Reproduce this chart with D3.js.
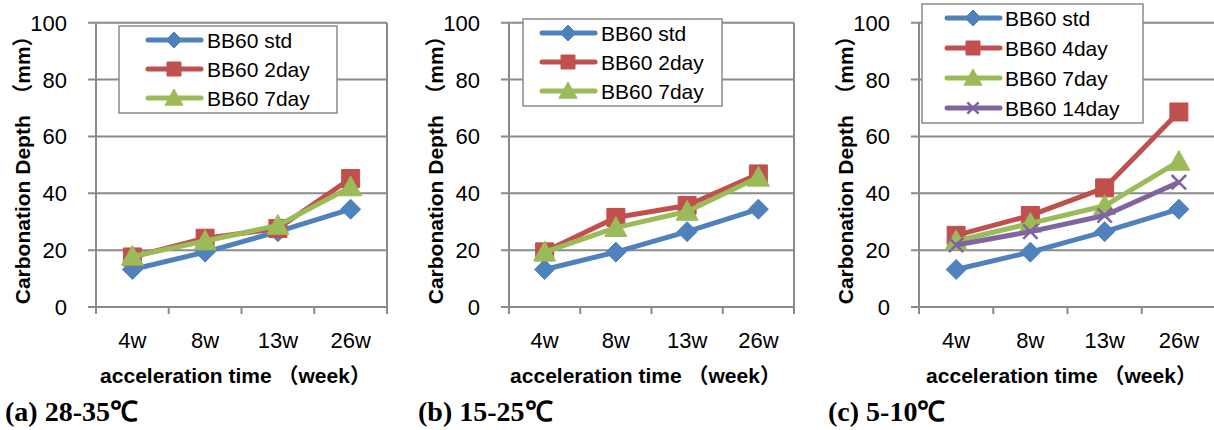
<!DOCTYPE html>
<html>
<head>
<meta charset="utf-8">
<script src="https://cdn.jsdelivr.net/npm/d3@7/dist/d3.min.js"></script>
<style>
body{margin:0;background:#fff;}
text{font-family:"Liberation Sans",Arial,"Noto Sans CJK JP",sans-serif;fill:#000;}
.tick{font-size:22px;}
.legtext{font-size:21px;}
.title{font-size:21px;font-weight:bold;}
.plabel{font-family:"Liberation Serif","Times New Roman",serif;font-size:28px;font-weight:bold;}
</style>
</head>
<body>
<div id="chart"></div>
<script>
var w = 1214;
var h = 430;

// data
var weeks = ["4w","8w","13w","26w"];
var yTicks = [0,20,40,60,80,100];
var stdDepth = [13.2, 19.3, 26.5, 34.4];
var a2day = [17.6, 24.2, 27.6, 45.2];
var a7day = [17.8, 23.2, 28.7, 42.2];
var b2day = [19.4, 31.5, 35.7, 46.8];
var b7day = [19.3, 27.9, 33.6, 45.6];
var c4day = [25.2, 32.2, 41.9, 68.6];
var c7day = [23.2, 29.4, 35.6, 51.2];
var c14day = [21.8, 26.5, 32.2, 43.9];
var panelLabels = ["(a) 28-35℃","(b) 15-25℃","(c) 5-10℃"];

var colors = {std:"#4F81BD", red:"#C0504D", green:"#9BBB59", purple:"#8064A2"};

var panels = [
  {left:96, right:387, label:panelLabels[0],
   legend:{x:119,y:26,w:218,h:87,y0:40,step:29,lx:148,tx:207},
   series:[
    {name:"BB60 std",vals:stdDepth,color:colors.std,mark:"diamond"},
    {name:"BB60 2day",vals:a2day,color:colors.red,mark:"square"},
    {name:"BB60 7day",vals:a7day,color:colors.green,mark:"triangle"}]},
  {left:509, right:794, label:panelLabels[1],
   legend:{x:523,y:19,w:199,h:87,y0:33,step:29,lx:542,tx:601},
   series:[
    {name:"BB60 std",vals:stdDepth,color:colors.std,mark:"diamond"},
    {name:"BB60 2day",vals:b2day,color:colors.red,mark:"square"},
    {name:"BB60 7day",vals:b7day,color:colors.green,mark:"triangle"}]},
  {left:919, right:1216, label:panelLabels[2],
   legend:{x:922,y:4,w:221,h:119,y0:18,step:30,lx:947,tx:1005},
   series:[
    {name:"BB60 std",vals:stdDepth,color:colors.std,mark:"diamond"},
    {name:"BB60 4day",vals:c4day,color:colors.red,mark:"square"},
    {name:"BB60 7day",vals:c7day,color:colors.green,mark:"triangle"},
    {name:"BB60 14day",vals:c14day,color:colors.purple,mark:"cross"}]}
];

var plotTop = 22.7, plotBottom = 307;
var gridColor = "#8a8a8a";

var svg = d3.select("#chart").append("svg").attr("width", w).attr("height", h);

function markerPath(type, s){
  var r = s/2;
  if(type==="diamond") return "M0,"+(-r)+"L"+r+",0L0,"+r+"L"+(-r)+",0Z";
  if(type==="square") return "M"+(-r)+","+(-r)+"h"+s+"v"+s+"h"+(-s)+"Z";
  if(type==="triangle") return "M0,"+(-r)+"L"+r+","+(r*0.8)+"L"+(-r)+","+(r*0.8)+"Z";
  return "M"+(-r*0.8)+","+(-r*0.8)+"L"+(r*0.8)+","+(r*0.8)+"M"+(r*0.8)+","+(-r*0.8)+"L"+(-r*0.8)+","+(r*0.8);
}

function drawMarker(g, type, color, x, y, s){
  var p = g.append("path")
    .attr("transform","translate("+x+","+y+")")
    .attr("d", markerPath(type, s));
  if(type==="cross"){
    p.attr("fill","none").attr("stroke",color).attr("stroke-width",2.5);
  } else {
    p.attr("fill",color).attr("stroke",color).attr("stroke-width",1);
  }
}

function markSize(type){
  if(type==="diamond") return 20;
  if(type==="triangle") return 22;
  return 18;
}

function drawPanel(cfg){
  var g = svg.append("g");
  var xScale = d3.scaleBand().domain(weeks).range([cfg.left, cfg.right]);
  var yScale = d3.scaleLinear().domain([0,100]).range([plotBottom, plotTop]);

  // gridlines + y ticks
  g.selectAll(".grid").data(yTicks).enter().append("line")
    .attr("x1", cfg.left-8).attr("x2", cfg.right)
    .attr("y1", function(d){return yScale(d);})
    .attr("y2", function(d){return yScale(d);})
    .attr("stroke", gridColor).attr("stroke-width", 2);

  // axis lines
  g.append("line").attr("x1",cfg.left).attr("x2",cfg.left).attr("y1",plotTop).attr("y2",plotBottom+7)
    .attr("stroke",gridColor).attr("stroke-width",2);
  g.append("line").attr("x1",cfg.right).attr("x2",cfg.right).attr("y1",plotTop).attr("y2",plotBottom+7)
    .attr("stroke",gridColor).attr("stroke-width",2);
  g.selectAll(".xt").data(weeks.slice(1)).enter().append("line")
    .attr("x1",function(d){return xScale(d);}).attr("x2",function(d){return xScale(d);})
    .attr("y1",plotBottom).attr("y2",plotBottom+7)
    .attr("stroke",gridColor).attr("stroke-width",2);

  // tick labels
  g.selectAll(".yl").data(yTicks).enter().append("text")
    .attr("class","tick")
    .attr("x", cfg.left-29)
    .attr("y", function(d){return yScale(d)+8;})
    .attr("text-anchor","end")
    .text(function(d){return d;});
  g.selectAll(".xl").data(weeks).enter().append("text")
    .attr("class","tick")
    .attr("x", function(d){return xScale(d)+xScale.bandwidth()/2;})
    .attr("y", 348)
    .attr("text-anchor","middle")
    .text(function(d){return d;});

  // axis titles
  g.append("text").attr("class","title")
    .attr("x",(cfg.left+cfg.right)/2 - 6).attr("y",383)
    .attr("text-anchor","middle")
    .text("acceleration time （week）");
  g.append("text").attr("class","title")
    .attr("transform","translate("+(cfg.left-66)+","+((plotTop+plotBottom)/2)+") rotate(-90)")
    .attr("text-anchor","middle")
    .text("Carbonation Depth　（mm）");

  // series
  var line = d3.line()
    .x(function(d,i){return xScale(weeks[i])+xScale.bandwidth()/2;})
    .y(function(d){return yScale(d);});
  cfg.series.forEach(function(s){
    g.append("path").datum(s.vals)
      .attr("d", line).attr("fill","none")
      .attr("stroke", s.color).attr("stroke-width",5)
      .attr("stroke-linejoin","round");
    s.vals.forEach(function(v,i){
      drawMarker(g, s.mark, s.color, xScale(weeks[i])+xScale.bandwidth()/2, yScale(v), markSize(s.mark));
    });
  });

  // legend
  var L = cfg.legend;
  g.append("rect").attr("x",L.x).attr("y",L.y).attr("width",L.w).attr("height",L.h)
    .attr("fill","#fff").attr("stroke",gridColor).attr("stroke-width",1.5);
  cfg.series.forEach(function(s,i){
    var yy = L.y0 + i*L.step;
    g.append("line").attr("x1",L.lx).attr("x2",L.lx+53).attr("y1",yy).attr("y2",yy)
      .attr("stroke",s.color).attr("stroke-width",5).attr("stroke-linecap","round");
    drawMarker(g, s.mark, s.color, L.lx+26, yy, markSize(s.mark)-4);
    g.append("text").attr("class","legtext").attr("x",L.tx).attr("y",yy+7.5).text(s.name);
  });

  // panel label
  g.append("text").attr("class","plabel")
    .attr("x", cfg.left-91).attr("y",421)
    .text(cfg.label);
}

panels.forEach(drawPanel);
</script>
</body>
</html>
